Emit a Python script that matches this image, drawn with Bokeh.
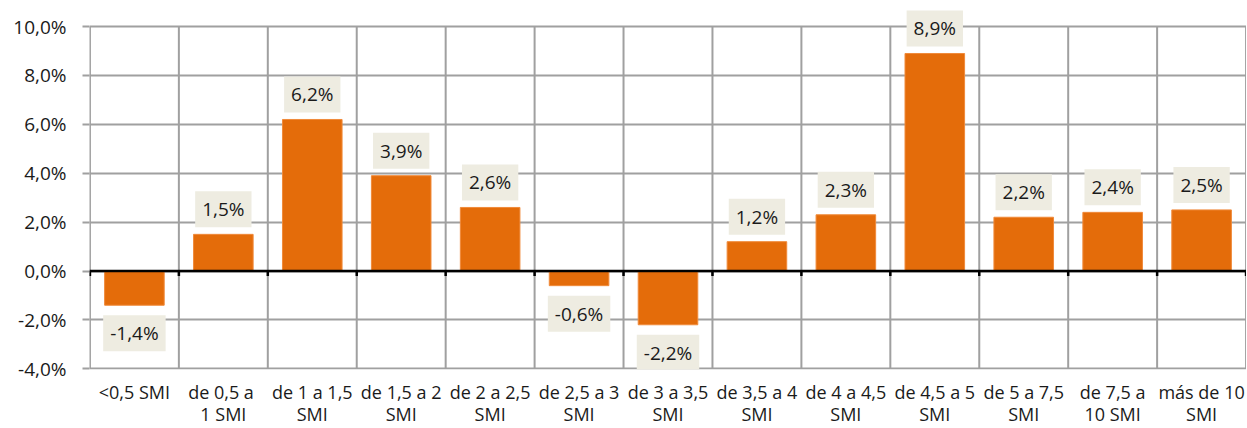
from bokeh.plotting import figure
from bokeh.models import FixedTicker, Range1d, Label, Span, ColumnDataSource
from bokeh.embed import file_html
from bokeh.resources import INLINE

categories = ["<0,5 SMI", "de 0,5  a\n1 SMI", "de 1 a 1,5\nSMI", "de 1,5 a 2\nSMI",
              "de 2 a 2,5\nSMI", "de 2,5 a 3\nSMI", "de 3 a 3,5\nSMI", "de 3,5 a 4\nSMI",
              "de 4 a 4,5\nSMI", "de 4,5 a 5\nSMI", "de 5 a 7,5\nSMI", "de 7,5 a\n10 SMI",
              "más de 10\nSMI"]
values = [-1.4, 1.5, 6.2, 3.9, 2.6, -0.6, -2.2, 1.2, 2.3, 8.9, 2.2, 2.4, 2.5]
value_labels = ["-1,4%", "1,5%", "6,2%", "3,9%", "2,6%", "-0,6%", "-2,2%", "1,2%",
                "2,3%", "8,9%", "2,2%", "2,4%", "2,5%"]
y_ticks = [-4, -2, 0, 2, 4, 6, 8, 10]
y_tick_labels = ["-4,0%", "-2,0%", "0,0%", "2,0%", "4,0%", "6,0%", "8,0%", "10,0%"]

FONT = "Open Sans"
GRID = "#A0A0A0"
n = len(categories)
xpos = [i + 0.5 for i in range(n)]
bounds = list(range(n + 1))
ymin, ymax = min(y_ticks), max(y_ticks)

p = figure(frame_width=1157, frame_height=360, output_backend="svg", toolbar_location=None,
           x_range=Range1d(-0.005, n + 0.005), y_range=Range1d(ymin - 0.03, ymax + 0.7),
           min_border_left=89, min_border_right=0, min_border_top=9, min_border_bottom=44)
p.outline_line_color = None
p.background_fill_color = "white"

# grids: horizontal via grid, vertical drawn only between -4 and 10
p.xgrid.grid_line_color = None
p.ygrid.ticker = FixedTicker(ticks=y_ticks)
p.ygrid.grid_line_color = GRID
p.ygrid.grid_line_width = 2
p.segment(x0=bounds, y0=[ymin] * len(bounds), x1=bounds, y1=[ymax] * len(bounds),
          line_color=GRID, line_width=2)

# bars
src = ColumnDataSource(dict(x=xpos, top=values))
p.vbar(x="x", top="top", bottom=0, width=0.67, source=src, fill_color="#E46C0A",
       line_color="#F08A3A", line_width=1)

# zero line and its ticks
p.add_layout(Span(location=0, dimension="width", line_color="black", line_width=2.5))
p.segment(x0=bounds, y0=[0] * len(bounds), x1=bounds, y1=[-0.2] * len(bounds),
          line_color="black", line_width=2.5)

# value labels
for x, v, t in zip(xpos, values, value_labels):
    p.add_layout(Label(x=x, y=v, text=t, text_align="center", text_baseline="middle",
                       y_offset=25 if v >= 0 else -28, text_font=FONT, text_font_size="19px",
                       text_color="#1a1a1a", background_fill_color="#EEECE1",
                       padding=(7, 5)))

# y axis
ya = p.yaxis[0]
ya.ticker = FixedTicker(ticks=y_ticks)
ya.major_label_overrides = {t: l for t, l in zip(y_ticks, y_tick_labels)}
ya.axis_line_color = None
ya.major_tick_line_color = GRID
ya.major_tick_line_width = 2
ya.major_tick_out = 7
ya.major_tick_in = 0
ya.minor_tick_line_color = None
ya.major_label_standoff = 16
ya.major_label_text_font = FONT
ya.major_label_text_font_size = "19px"
ya.major_label_text_color = "#1a1a1a"

# x axis
xa = p.xaxis[0]
xa.ticker = FixedTicker(ticks=xpos)
xa.major_label_overrides = {x: c for x, c in zip(xpos, categories)}
xa.axis_line_color = None
xa.major_tick_line_color = None
xa.minor_tick_line_color = None
xa.major_label_standoff = 4
xa.major_label_text_font = FONT
xa.major_label_text_font_size = "18px"
xa.major_label_text_color = "#1a1a1a"
xa.major_label_text_line_height = 0.95

open("out.html", "w").write(file_html(p, INLINE))
